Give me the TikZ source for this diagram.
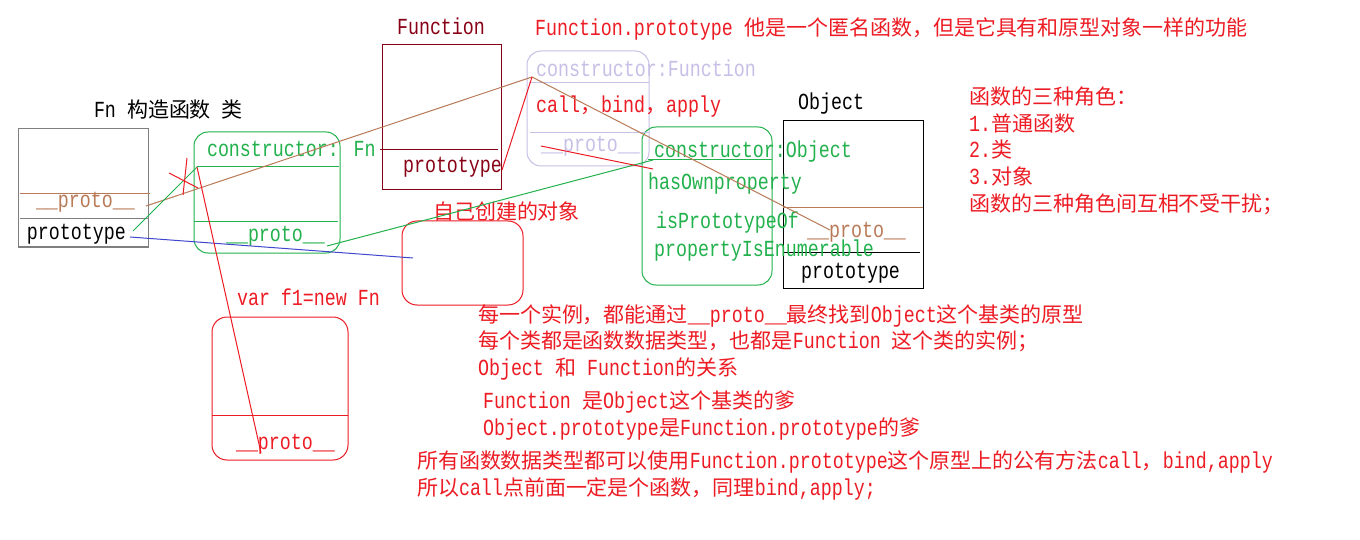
\documentclass[tikz,border=0pt]{standalone}
\usepackage{fontspec}
\setmainfont{Liberation Mono}[FakeStretch=0.797]
\newfontfamily\cjkfont{Noto Sans CJK SC}[Scale=0.913]
\newcommand\zhs[1]{{\cjkfont #1}}
\definecolor{pred}{HTML}{ED1C24}
\definecolor{pgreen}{HTML}{22B14C}
\definecolor{pbrown}{HTML}{B97A57}
\definecolor{pdred}{HTML}{880015}
\definecolor{plav}{HTML}{C8BFE7}
\definecolor{pblue}{HTML}{3F48CC}
\definecolor{pgray}{HTML}{7F7F7F}
\begin{document}
\begin{tikzpicture}[x=1pt,y=-1pt,
  every node/.style={inner sep=0pt, outer sep=0pt},
  txt/.style={anchor=base west, font=\fontsize{23}{26}\selectfont},
  box/.style={draw, anchor=north west, line width=1pt},
  rbox/.style={box, rounded corners=14pt},
  conn/.style={line width=1pt},
  divider/.style={line width=1pt}]
\useasboundingbox[fill=white] (0,0) rectangle (1360,540);

% boxes
\node[box, pgray, minimum width=130pt, minimum height=118pt] (fnbox) at (18,129) {};
\node[rbox, pgreen, minimum width=146pt, minimum height=121pt] (fnpbox) at (194,132) {};
\node[box, pdred, minimum width=119pt, minimum height=145pt] (funcbox) at (382,45) {};
\node[rbox, plav, minimum width=122pt, minimum height=115pt] (funcpbox) at (527,51) {};
\node[rbox, pgreen, minimum width=130pt, minimum height=158pt] (objpbox) at (642,127) {};
\node[box, black, minimum width=140pt, minimum height=167pt] (objbox) at (783,121) {};
\node[rbox, pred, rounded corners=15pt, minimum width=121pt, minimum height=84pt] (selfbox) at (402,221) {};
\node[rbox, pred, rounded corners=15pt, minimum width=136pt, minimum height=143pt] (f1box) at (212,317) {};

% dividers
\draw[divider, pbrown] (20,194) -- (150,194);
\draw[divider, pgray] (20,219) -- (148,219);
\draw[divider, pgreen] (197,167) -- (339,167);
\draw[divider, pgreen] (194,222) -- (338,222);
\draw[divider, pdred] (380,150) -- (498,150);
\draw[divider, plav] (529,83) -- (649,83);
\draw[divider, plav] (530,133) -- (649,133);
\draw[divider, pgreen] (648,160) -- (772,160);
\draw[divider, pbrown] (783,208) -- (923,208);
\draw[divider, black] (783,252) -- (920,252);
\draw[divider, pred] (212,415) -- (348,415);

% texts in and over boxes
\node[txt] (fnT) at (94,118) {Fn \zhs{构造函数} \zhs{类}};
\node[txt, pbrown] (fnProtoT) at (36,208) {\_\_proto\_\_};
\node[txt] (fnPrototypeT) at (27,240) {prototype};
\node[txt, pgreen] (fnpCons) at (207,157) {constructor: Fn};
\node[txt, pgreen] (fnpProto) at (226,242) {\_\_proto\_\_};
\node[txt, pdred] (funcT) at (397,35) {Function};
\node[txt, pdred] (funcPrototypeT) at (403,173) {prototype};
\node[txt, pred] (headT) at (535,36) {Function.prototype \zhs{他是一个匿名函数，但是它具有和原型对象一样的功能}};
\node[txt, plav] (fpCons) at (536,77) {constructor:Function};
\node[txt, pred] (fpCall) at (536,113) {call\zhs{，}bind\zhs{，}apply};
\node[txt, plav] (fpProto) at (541,152) {\_\_proto\_\_};
\node[txt] (objT) at (798,110) {Object};
\node[txt, pgreen] (opCons) at (654,158) {constructor:Object};
\node[txt, pgreen] (opHas) at (648,190) {hasOwnproperty};
\node[txt, pgreen] (opIs) at (656,229) {isPrototypeOf};
\node[txt, pgreen] (opEnum) at (654,257) {propertyIsEnumerable};
\node[txt, pbrown] (objProtoT) at (807,237) {\_\_proto\_\_};
\node[txt] (objPrototypeT) at (801,278) {prototype};
\node[txt, pred] (selfT) at (433,220) {\zhs{自己创建的对象}};
\node[txt, pred] (f1T) at (237,305) {var f1=new Fn};
\node[txt, pred] (f1Proto) at (236,449) {\_\_proto\_\_};

% right list
\node[txt, pred] (r1) at (969,105) {\zhs{函数的三种角色：}};
\node[txt, pred] (r2) at (969,132) {1.\zhs{普通函数}};
\node[txt, pred] (r3) at (969,158) {2.\zhs{类}};
\node[txt, pred] (r4) at (969,185) {3.\zhs{对象}};
\node[txt, pred] (r5) at (969,212) {\zhs{函数的三种角色间互相不受干扰；}};

% bottom notes
\node[txt, pred] (b1) at (478,322) {\zhs{每一个实例，都能通过}\_\_proto\_\_\zhs{最终找到}Object\zhs{这个基类的原型}};
\node[txt, pred] (b2) at (478,348) {\zhs{每个类都是函数数据类型，也都是}Function \zhs{这个类的实例；}};
\node[txt, pred] (b3) at (478,375) {Object \zhs{和} Function\zhs{的关系}};
\node[txt, pred] (b4) at (483,408) {Function \zhs{是}Object\zhs{这个基类的爹}};
\node[txt, pred] (b5) at (483,435) {Object.prototype\zhs{是}Function.prototype\zhs{的爹}};
\node[txt, pred] (b6) at (417,468) {\zhs{所有函数数据类型都可以使用}Function.prototype\zhs{这个原型上的公有方法}call\zhs{，}bind,apply};
\node[txt, pred] (b7) at (417,495) {\zhs{所以}call\zhs{点前面一定是个函数，同理}bind,apply;};

% connector end points
\coordinate (pFnProto) at (146,206);
\coordinate (pFpTop) at (532,77);
\coordinate (pObjProto) at (830,230);
\coordinate (pFnPrototypeA) at (133,231);
\coordinate (pFnpTop) at (197,167);
\coordinate (pFnpProto) at (327,246);
\coordinate (pOpCons) at (653,160);
\coordinate (pFnPrototypeB) at (130,237);
\coordinate (pSelf) at (413,258);
\coordinate (pFuncPrototype) at (502,170);
\coordinate (pFpProto) at (541,146);
\coordinate (pOpSide) at (653,169);
\coordinate (pF1Proto) at (261,453);
\coordinate (xA1) at (187,158);
\coordinate (xA2) at (183,195);
\coordinate (xB1) at (169,173);
\coordinate (xB2) at (198,188);

% connectors
\draw[conn, pbrown] (pFnProto) -- (pFpTop) -- (pObjProto);
\draw[conn, pgreen] (pFnPrototypeA) -- (pFnpTop);
\draw[conn, pgreen] (pFnpProto) -- (pOpCons);
\draw[conn, pblue] (pFnPrototypeB) -- (pSelf);
\draw[conn, pred] (pFuncPrototype) -- (pFpTop);
\draw[conn, pred] (pFpProto) -- (pOpSide);
\draw[conn, pred] (pF1Proto) -- (pFnpTop);
\draw[conn, pred] (xA1) -- (xA2);
\draw[conn, pred] (xB1) -- (xB2);
\end{tikzpicture}
\end{document}
